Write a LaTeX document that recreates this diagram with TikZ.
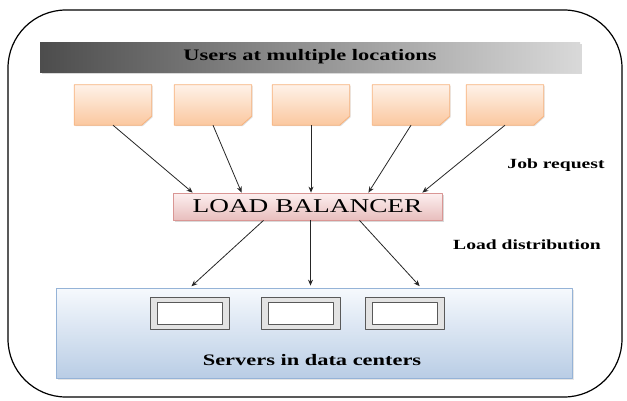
\documentclass[tikz,border=0pt]{standalone}
\usepackage{fontspec}
\setmainfont{Liberation Serif}[FakeStretch=1.4]
\newfontfamily\boldserif{Liberation Serif Bold}[FakeStretch=1.4]
\usetikzlibrary{shadows,arrows.meta,positioning}
\definecolor{peachTop}{HTML}{FEF1E8}
\definecolor{peachBot}{HTML}{FBC89F}
\definecolor{peachLine}{HTML}{F7B27C}
\definecolor{pinkTop}{HTML}{FDF0F0}
\definecolor{pinkBot}{HTML}{E8BEBD}
\definecolor{pinkLine}{HTML}{D99694}
\definecolor{skyTop}{HTML}{F6F9FD}
\definecolor{skyBot}{HTML}{B9CDE5}
\definecolor{skyLine}{HTML}{95B3D7}
\tikzset{
  userbox/.style={rectangle, minimum width=77pt, minimum height=40pt},
  userfill/.style={top color=peachTop, bottom color=peachBot, draw=peachLine,
    line width=0.8pt, drop shadow={shadow xshift=1pt, shadow yshift=-1pt, opacity=.25}},
  serverbox/.style={rectangle, minimum width=79pt, minimum height=32pt,
    fill=gray!22, draw=black!65, line width=0.8pt,
    path picture={\draw[black!65, fill=white, line width=0.8pt]
      ([shift={(7pt,-5pt)}]path picture bounding box.north west) rectangle
      ([shift={(-7pt,5pt)}]path picture bounding box.south east);}},
  flow/.style={-{Stealth[length=6pt,width=5pt]}, line width=0.8pt, black!85},
  tag/.style={font=\boldserif\fontsize{14}{16}\selectfont}
}
\begin{document}
\begin{tikzpicture}[x=1pt, y=-1pt, line join=round]
\useasboundingbox (0,0) rectangle (627,400);
\draw[line width=1.2pt, rounded corners=58pt] (8,10) rectangle (622,397);
\node[rectangle, minimum width=540pt, minimum height=30pt, left color=black!70,
  right color=black!15, drop shadow={shadow xshift=2pt, shadow yshift=-2pt, opacity=.3},
  font=\boldserif\fontsize{16}{18}\selectfont] (users) at (310,57) {Users at multiple locations};
\foreach \i/\x in {1/113, 2/213, 3/311, 4/411, 5/505}{
  \node[userbox] (u\i) at (\x,105) {};
  \shade[userfill] (u\i.north west) -- (u\i.north east) -- ([yshift=9pt]u\i.south east)
    -- ([xshift=-10pt]u\i.south east) -- (u\i.south west) -- cycle;
}
\node[rectangle, minimum width=269pt, minimum height=27pt, top color=pinkTop,
  bottom color=pinkBot, draw=pinkLine, line width=0.8pt,
  drop shadow={shadow xshift=2pt, shadow yshift=-2pt, opacity=.3},
  font=\fontsize{19.5}{22}\selectfont] (lb) at (307.5,206.5) {LOAD BALANCER};
\node[tag] (job) at (556,165) {Job request};
\node[tag] (dist) at (527,245) {Load distribution};
\node[rectangle, minimum width=516pt, minimum height=90pt, top color=skyTop,
  bottom color=skyBot, draw=skyLine, line width=0.8pt,
  drop shadow={shadow xshift=1.5pt, shadow yshift=-1.5pt, opacity=.2}] (dc) at (314,333) {};
\foreach \i/\x in {1/190, 2/301, 3/405}
  \node[serverbox] (s\i) at (\x,313) {};
\node[font=\boldserif\fontsize{16}{18}\selectfont] (dclabel) at (312,360) {Servers in data centers};
\draw[flow] (u1.south) -- ([xshift=20pt]lb.north west);
\draw[flow] (u2.south) -- ([xshift=69pt]lb.north west);
\draw[flow] (u3.south) -- (u3.south |- lb.north);
\draw[flow] (u4.south) -- ([xshift=-74pt]lb.north east);
\draw[flow] (u5.south) -- ([xshift=-20pt]lb.north east);
\draw[flow, shorten >=2pt] ([xshift=-44pt]lb.south) -- ([xshift=-124pt]dc.north);
\draw[flow, shorten >=2pt] ([xshift=3pt]lb.south) -- ([xshift=3pt]lb.south |- dc.north);
\draw[flow, shorten >=2pt] ([xshift=52pt]lb.south) -- ([xshift=107pt]dc.north);
\end{tikzpicture}
\end{document}
